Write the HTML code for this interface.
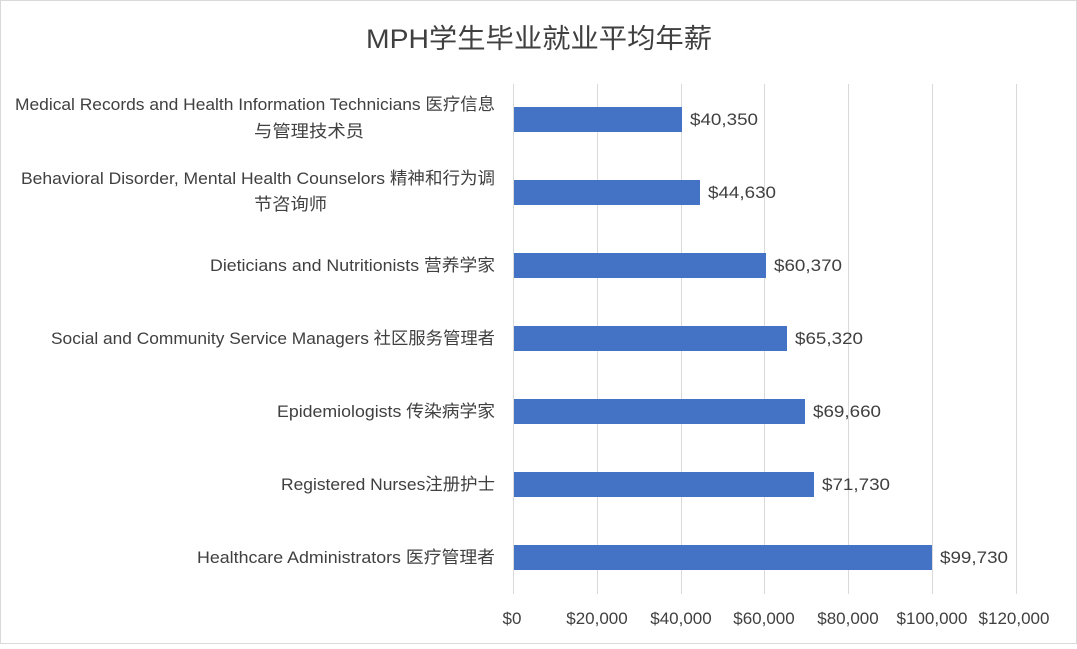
<!DOCTYPE html>
<html><head><meta charset="utf-8"><style>
body{margin:0;background:#fff}
svg text{font-family:"Liberation Sans","Noto Sans CJK SC",sans-serif;fill:#404040}
</style></head><body>
<svg width="1077" height="644" xmlns="http://www.w3.org/2000/svg">
<rect x="0.5" y="0.5" width="1076" height="643" fill="#fff" stroke="#d9d9d9"/>
<text x="366" y="48" font-size="27" textLength="346" lengthAdjust="spacingAndGlyphs" fill="#595959">MPH学生毕业就业平均年薪</text>
<g stroke="#d9d9d9" stroke-width="1">
<line x1="513.5" y1="84" x2="513.5" y2="594"/>
<line x1="597.5" y1="84" x2="597.5" y2="594"/>
<line x1="681.5" y1="84" x2="681.5" y2="594"/>
<line x1="764.5" y1="84" x2="764.5" y2="594"/>
<line x1="848.5" y1="84" x2="848.5" y2="594"/>
<line x1="932.5" y1="84" x2="932.5" y2="594"/>
<line x1="1016.5" y1="84" x2="1016.5" y2="594"/>
</g>
<g fill="#4472c4">
<rect x="514" y="107" width="168" height="25"/>
<rect x="514" y="180" width="186" height="25"/>
<rect x="514" y="253" width="252" height="25"/>
<rect x="514" y="326" width="273" height="25"/>
<rect x="514" y="399" width="291" height="25"/>
<rect x="514" y="472" width="300" height="25"/>
<rect x="514" y="545" width="418" height="25"/>
</g>
<g font-size="17">
<text x="690" y="125" textLength="68" lengthAdjust="spacingAndGlyphs">$40,350</text>
<text x="708" y="198" textLength="68" lengthAdjust="spacingAndGlyphs">$44,630</text>
<text x="774" y="271" textLength="68" lengthAdjust="spacingAndGlyphs">$60,370</text>
<text x="795" y="344" textLength="68" lengthAdjust="spacingAndGlyphs">$65,320</text>
<text x="813" y="417" textLength="68" lengthAdjust="spacingAndGlyphs">$69,660</text>
<text x="822" y="490" textLength="68" lengthAdjust="spacingAndGlyphs">$71,730</text>
<text x="940" y="563" textLength="68" lengthAdjust="spacingAndGlyphs">$99,730</text>
</g>
<g font-size="17">
<text x="15" y="110" textLength="480" lengthAdjust="spacingAndGlyphs">Medical Records and Health Information Technicians 医疗信息</text>
<text x="254" y="137" textLength="110" lengthAdjust="spacingAndGlyphs">与管理技术员</text>
<text x="21" y="184" textLength="474" lengthAdjust="spacingAndGlyphs">Behavioral Disorder, Mental Health Counselors 精神和行为调</text>
<text x="254" y="210" textLength="73" lengthAdjust="spacingAndGlyphs">节咨询师</text>
<text x="210" y="271" textLength="285" lengthAdjust="spacingAndGlyphs">Dieticians and Nutritionists 营养学家</text>
<text x="51" y="344" textLength="444" lengthAdjust="spacingAndGlyphs">Social and Community Service Managers 社区服务管理者</text>
<text x="277" y="417" textLength="218" lengthAdjust="spacingAndGlyphs">Epidemiologists 传染病学家</text>
<text x="281" y="490" textLength="214" lengthAdjust="spacingAndGlyphs">Registered Nurses注册护士</text>
<text x="197" y="563" textLength="298" lengthAdjust="spacingAndGlyphs">Healthcare Administrators 医疗管理者</text>
</g>
<g font-size="17" text-anchor="middle">
<text x="512" y="624">$0</text>
<text x="597" y="624">$20,000</text>
<text x="681" y="624">$40,000</text>
<text x="764" y="624">$60,000</text>
<text x="848" y="624">$80,000</text>
<text x="932" y="624">$100,000</text>
<text x="1014" y="624">$120,000</text>
</g>
</svg>
</body></html>
